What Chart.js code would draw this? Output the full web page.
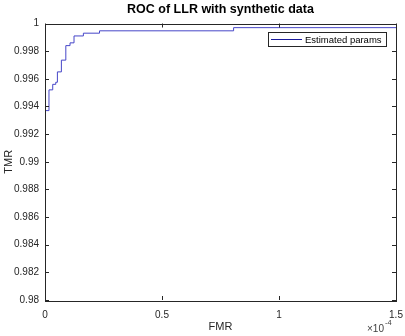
<!DOCTYPE html>
<html>
<head>
<meta charset="utf-8">
<script src="https://cdn.jsdelivr.net/npm/chart.js@4/dist/chart.umd.min.js"></script>
<style>
  html, body { margin: 0; padding: 0; background: #fff; }
  #wrap { width: 405px; height: 336px; }
</style>
</head>
<body>
<div id="wrap"><canvas id="rocChart" width="405" height="336"></canvas></div>
<script>
// ROC curve (FMR on x, TMR on y)
var fmr = [0, 0, 1.7e-6, 3.3e-6, 4.6e-6, 5.3e-6, 7.0e-6, 8.9e-6, 1.07e-5, 1.24e-5, 1.64e-5, 2.33e-5, 8.06e-5, 1.5e-4]
var tmr = [0.98, 0.9937, 0.9952, 0.9956, 0.99575, 0.9965, 0.99735, 0.9984, 0.9986, 0.9991, 0.9993, 0.99947, 0.9997, 0.9997]
var seriesName = "Estimated params"
var xTicks = [0, 0.5e-4, 1e-4, 1.5e-4]
var yTicks = [0.98, 0.982, 0.984, 0.986, 0.988, 0.99, 0.992, 0.994, 0.996, 0.998, 1]

var points = []
for (var i = 0; i < fmr.length; i++) {
    points.push({ x: fmr[i], y: tmr[i] })
}

var txtColor = "#262626"
var font = "Liberation Sans, Arial, sans-serif"

// matlab style box with inward ticks, plus legend and exponent label
var matlabBox = {
    id: "matlabBox",
    afterDraw: function (chart) {
        var ctx = chart.ctx
        var a = chart.chartArea
        var xs = chart.scales.x
        var ys = chart.scales.y
        ctx.save()
        ctx.strokeStyle = txtColor
        ctx.lineWidth = 1
        ctx.strokeRect(Math.round(a.left) + 0.5, Math.round(a.top) + 0.5, Math.round(a.right - a.left), Math.round(a.bottom - a.top))
        ctx.beginPath()
        xTicks.forEach(function (v) {
            var px = Math.round(xs.getPixelForValue(v)) + 0.5
            ctx.moveTo(px, a.bottom); ctx.lineTo(px, a.bottom - 4)
            ctx.moveTo(px, a.top); ctx.lineTo(px, a.top + 4)
        })
        yTicks.forEach(function (v) {
            var py = Math.round(ys.getPixelForValue(v)) + 0.5
            ctx.moveTo(a.left, py); ctx.lineTo(a.left + 4, py)
            ctx.moveTo(a.right, py); ctx.lineTo(a.right - 4, py)
        })
        ctx.stroke()

        // legend
        var lx = 268, ly = 32, lw = 118, lh = 14
        ctx.fillStyle = "#fff"
        ctx.fillRect(lx, ly, lw, lh)
        ctx.strokeStyle = txtColor
        ctx.strokeRect(lx + 0.5, ly + 0.5, lw, lh)
        ctx.strokeStyle = "#1a1a9c"
        ctx.beginPath()
        ctx.moveTo(lx + 3, ly + 7.5); ctx.lineTo(lx + 34, ly + 7.5)
        ctx.stroke()
        ctx.fillStyle = "#000"
        ctx.font = "9.5px " + font
        ctx.textBaseline = "middle"
        ctx.textAlign = "left"
        ctx.fillText(chart.data.datasets[0].label, lx + 37, ly + 8)

        // exponent
        ctx.fillStyle = "#404040"
        ctx.font = "10px " + font
        ctx.textBaseline = "alphabetic"
        ctx.fillText("\u00d710", 367, 332)
        ctx.font = "7.5px " + font
        ctx.fillText("-4", 385, 325)
        ctx.restore()
    }
}

new Chart("rocChart", {
    type: "line",
    data: {
        datasets: [{
            label: seriesName,
            data: points,
            borderColor: "#4646c8",
            borderWidth: 1,
            pointRadius: 0,
            stepped: "before",
            fill: false
        }]
    },
    options: {
        responsive: false,
        animation: false,
        layout: { padding: { left: 0, right: 9, top: 0, bottom: 0 } },
        plugins: {
            legend: { display: false },
            tooltip: { enabled: false },
            title: {
                display: true,
                fullSize: false,
                text: "ROC of LLR with synthetic data",
                color: "#000",
                font: { family: font, size: 12.5, weight: "bold" },
                padding: { top: 2, bottom: 6.5 }
            }
        },
        scales: {
            x: {
                type: "linear",
                min: 0,
                max: 1.5e-4,
                afterBuildTicks: function (scale) {
                    scale.ticks = xTicks.map(function (v) { return { value: v } })
                },
                afterFit: function (scale) {
                    scale.height = 36
                    scale.paddingLeft = 0
                    scale.paddingRight = 0
                },
                grid: { display: false, drawTicks: false },
                border: { display: false },
                ticks: {
                    color: txtColor,
                    padding: 9,
                    maxRotation: 0,
                    font: { family: font, size: 10 },
                    callback: function (v) { return String(Math.round(v * 1e5) / 10) }
                },
                title: {
                    display: true,
                    text: "FMR",
                    color: txtColor,
                    font: { family: font, size: 11 },
                    padding: { top: 0, bottom: 2 }
                }
            },
            y: {
                type: "linear",
                min: 0.98,
                max: 1,
                afterBuildTicks: function (scale) {
                    scale.ticks = yTicks.map(function (v) { return { value: v } })
                },
                afterFit: function (scale) { scale.width = 45 },
                grid: { display: false, drawTicks: false },
                border: { display: false },
                ticks: {
                    color: txtColor,
                    padding: 6,
                    font: { family: font, size: 10 },
                    callback: function (v) { return String(parseFloat(v.toFixed(3))) }
                },
                title: {
                    display: true,
                    text: "TMR",
                    color: txtColor,
                    font: { family: font, size: 11 },
                    padding: { top: 2, bottom: 0 }
                }
            }
        }
    },
    plugins: [matlabBox]
});
</script>
</body>
</html>
